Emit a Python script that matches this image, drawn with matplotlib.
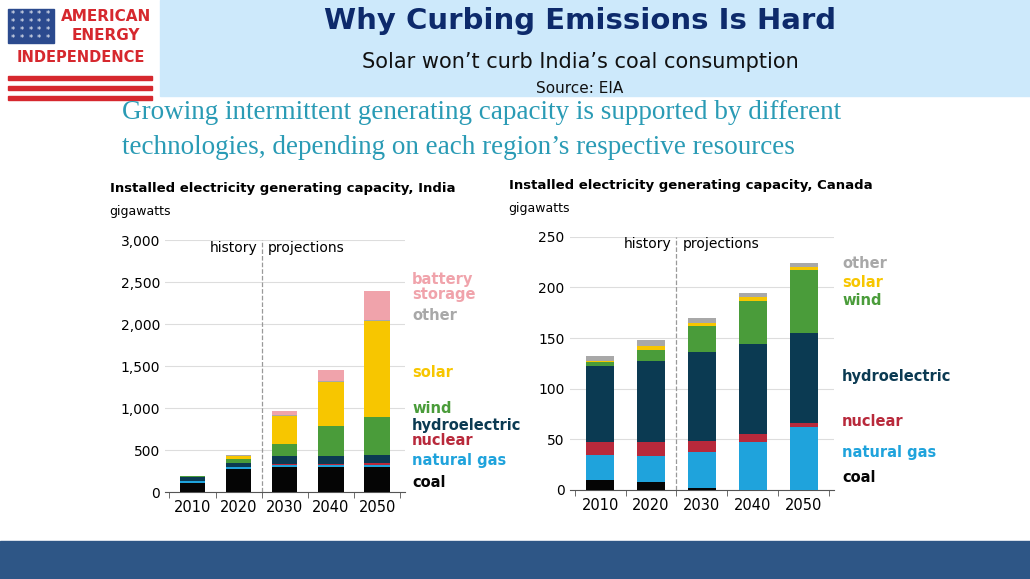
import matplotlib.pyplot as plt
from matplotlib.patches import Rectangle
import numpy as np

years = ['2010', '2020', '2030', '2040', '2050']
colors = {'coal': '#050505', 'natural gas': '#1fa3dc', 'nuclear': '#b8293b',
          'hydroelectric': '#0b3a52', 'wind': '#4a9c3a', 'solar': '#f7c600',
          'other': '#a8a8a8', 'battery storage': '#f0a3ab'}

india = {
    'coal':            [110, 270, 300, 300, 300],
    'natural gas':     [20, 25, 25, 25, 25],
    'nuclear':         [5, 7, 15, 15, 20],
    'hydroelectric':   [40, 50, 85, 90, 95],
    'wind':            [15, 40, 145, 360, 450],
    'solar':           [2, 35, 340, 520, 1150],
    'other':           [5, 10, 10, 10, 15],
    'battery storage': [0, 0, 50, 140, 340],
}
canada = {
    'coal':          [10, 8, 2, 0, 0],
    'natural gas':   [24, 25, 35, 47, 62],
    'nuclear':       [13, 14, 11, 8, 4],
    'hydroelectric': [75, 80, 88, 89, 89],
    'wind':          [4, 11, 26, 43, 62],
    'solar':         [1, 4, 3, 4, 3],
    'other':         [5, 6, 5, 3, 4],
}

fig = plt.figure(figsize=(10.3, 5.79), dpi=100)
fig.patch.set_facecolor('white')

# header box and bottom band
fig.add_artist(Rectangle((0.155, 0.835), 0.845, 0.165, transform=fig.transFigure,
                         color='#cde9fb', zorder=0))
fig.add_artist(Rectangle((0, 0), 1, 0.065, transform=fig.transFigure,
                         color='#2e5686', zorder=0))
fig.text(0.563, 0.963, 'Why Curbing Emissions Is Hard', ha='center', va='center',
         fontsize=21, fontweight='bold', color='#0d2a6b')
fig.text(0.563, 0.893, 'Solar won\u2019t curb India\u2019s coal consumption', ha='center',
         va='center', fontsize=15, color='#111111')
fig.text(0.563, 0.848, 'Source: EIA', ha='center', va='center', fontsize=11, color='#111111')

# logo
fig.add_artist(Rectangle((0.008, 0.925), 0.044, 0.06, transform=fig.transFigure,
                         color='#2b4a8e'))
for i in range(5):
    for j in range(4):
        fig.text(0.0125 + i * 0.0085, 0.934 + j * 0.0135, '*', color='white',
                 fontsize=6, ha='center', va='center')
for k in range(3):
    fig.add_artist(Rectangle((0.008, 0.862 - k * 0.017), 0.14, 0.007,
                             transform=fig.transFigure, color='#d6282e'))
fig.text(0.103, 0.972, 'AMERICAN', ha='center', va='center', fontsize=11,
         fontweight='bold', color='#d6282e')
fig.text(0.103, 0.938, 'ENERGY', ha='center', va='center', fontsize=11,
         fontweight='bold', color='#d6282e')
fig.text(0.078, 0.9, 'INDEPENDENCE', ha='center', va='center', fontsize=10.5,
         fontweight='bold', color='#d6282e')

fig.text(0.118, 0.805, 'Growing intermittent generating capacity is supported by different',
         fontsize=19.5, family='Liberation Serif', color='#2a9bb5', va='center')
fig.text(0.118, 0.745, 'technologies, depending on each region\u2019s respective resources',
         fontsize=19.5, family='Liberation Serif', color='#2a9bb5', va='center')


def panel(rect, data, ymax, step, title, labels):
    ax = fig.add_axes(rect)
    x = np.arange(len(years))
    bottom = np.zeros(len(years))
    for k, v in data.items():
        ax.bar(x, v, 0.55, bottom=bottom, color=colors[k], zorder=3)
        bottom += np.array(v)
    ax.set_ylim(0, ymax)
    ax.set_xlim(-0.6, 4.6)
    ax.set_yticks(np.arange(0, ymax + 1, step))
    ax.set_yticklabels([f'{t:,}' for t in np.arange(0, ymax + 1, step)], fontsize=10)
    ax.set_xticks(x)
    ax.set_xticklabels(years, fontsize=10.5)
    ax.set_xticks(np.arange(-0.5, 5, 1), minor=True)
    ax.tick_params(axis='x', which='major', length=0, pad=6)
    ax.tick_params(axis='x', which='minor', length=4, color='#555')
    ax.tick_params(axis='y', length=0)
    ax.grid(axis='y', color='#dddddd', zorder=0)
    for s in ['top', 'right', 'left']:
        ax.spines[s].set_visible(False)
    ax.spines['bottom'].set_color('#555')
    ax.axvline(1.5, color='#999', ls='--', lw=0.9, zorder=4)
    ax.text(1.4, ymax * 0.97, 'history', ha='right', va='center', fontsize=10)
    ax.text(1.62, ymax * 0.97, 'projections', ha='left', va='center', fontsize=10)
    ax.text(-0.23, 1.19, title, transform=ax.transAxes, fontsize=9.5, fontweight='bold')
    ax.text(-0.23, 1.1, 'gigawatts', transform=ax.transAxes, fontsize=9)
    for name, y in labels:
        ax.text(1.03, y, name, transform=ax.get_yaxis_transform(), fontsize=10.5,
                fontweight='bold', color=colors[name.replace('\n', ' ')], va='center',
                linespacing=1.0)
    return ax


panel([0.160, 0.150, 0.233, 0.435], india, 3000, 500,
      'Installed electricity generating capacity, India',
      [('battery\nstorage', 2440), ('other', 2100), ('solar', 1430), ('wind', 1000),
       ('hydroelectric', 795), ('nuclear', 620), ('natural gas', 375), ('coal', 115)])
panel([0.553, 0.154, 0.257, 0.437], canada, 250, 50,
      'Installed electricity generating capacity, Canada',
      [('other', 224), ('solar', 205), ('wind', 187), ('hydroelectric', 112),
       ('nuclear', 68), ('natural gas', 37), ('coal', 12)])

fig.savefig('out.png', dpi=100)
